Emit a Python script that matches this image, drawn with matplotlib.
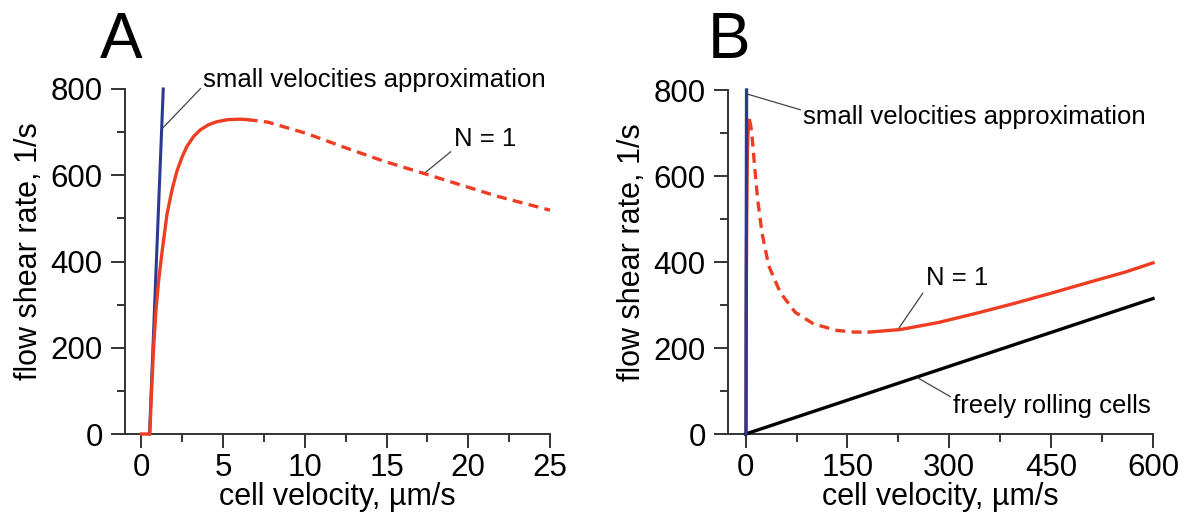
import matplotlib.pyplot as plt
from matplotlib.ticker import MultipleLocator

plt.rcParams['font.family'] = ['Liberation Sans', 'DejaVu Sans']

# panel A: N = 1 curve (solid rising part, dashed falling part)
a_solid_v = [0, 0.52, 0.62, 0.75, 0.9, 1.07, 1.26, 1.57, 1.9, 2.18, 2.5, 2.79, 3.2,
             3.6, 4.1, 4.6, 5.3, 6.04, 6.5]
a_solid_g = [0, 0, 95, 200, 290, 360, 420, 510, 570, 610, 643, 667, 690,
             705, 717, 724, 729, 730, 729]
a_dash_v = [6.5, 7.75, 10.1, 12.4, 14.8, 17.3, 19.5, 21.8, 24.5, 25.0]
a_dash_g = [729, 723, 697, 665, 633, 604, 578, 551, 524, 519]

# small velocities approximation (same in both panels)
approx_v = [0.5, 1.34]
approx_g = [0, 800]

# panel B: N = 1 curve
b_rise_v = [0, 0.52, 0.62, 0.75, 0.9, 1.07, 1.26, 1.57, 2.18, 2.79, 3.6, 4.6, 5.5]
b_rise_g = [0, 0, 95, 200, 290, 360, 420, 510, 610, 667, 705, 724, 729]
b_dash_v = [5.5, 7, 9, 11, 13, 17.7, 24, 34, 51, 73, 100, 134, 160, 182]
b_dash_g = [729, 722, 700, 665, 625, 545, 468, 391, 329, 283, 256, 241, 237, 237]
b_solid_v = [182, 228, 283, 338, 394, 449, 504, 560, 600]
b_solid_g = [237, 243, 259, 280, 303, 327, 352, 377, 398]

# freely rolling cells
free_v = [0, 600]
free_g = [0, 315]

RED = '#EE3D22'
BLUE = '#2A3A92'
AX = '#333333'
DASH = (3.0, 1.9)

fig = plt.figure(figsize=(11.89, 5.15), dpi=100)
ax_a = fig.add_axes([125 / 1189, 81 / 515, 425 / 1189, 345 / 515])
ax_b = fig.add_axes([728 / 1189, 81 / 515, 425 / 1189, 344 / 515])


def style_axis(ax, xlim, xmaj, xmin):
    ax.set_xlim(*xlim)
    ax.set_ylim(0, 800)
    for s in ('top', 'right'):
        ax.spines[s].set_visible(False)
    for s in ('left', 'bottom'):
        ax.spines[s].set_color(AX)
        ax.spines[s].set_linewidth(1.4)
    ax.xaxis.set_major_locator(MultipleLocator(xmaj))
    ax.xaxis.set_minor_locator(MultipleLocator(xmin))
    ax.yaxis.set_major_locator(MultipleLocator(200))
    ax.yaxis.set_minor_locator(MultipleLocator(100))
    ax.tick_params(which='major', direction='out', length=10, width=1.4,
                   color=AX, labelsize=22.5, pad=4)
    ax.tick_params(axis='y', which='major', pad=6)
    ax.tick_params(which='minor', direction='out', length=6, width=1.4, color=AX)
    ax.set_xlabel('cell velocity, µm/s', fontsize=22, labelpad=-1)
    ax.set_ylabel('flow shear rate, 1/s', fontsize=22)
    ax.yaxis.set_label_coords(-0.19, 0.53)


# ---- panel A
style_axis(ax_a, (-1, 25), 5, 2.5)
ax_a.plot(approx_v, approx_g, color=BLUE, lw=2.2, clip_on=False, zorder=3)
ax_a.plot(a_solid_v, a_solid_g, color=RED, lw=2.4, zorder=4, clip_on=False)
ax_a.plot(a_dash_v, a_dash_g, color=RED, lw=2.4, ls=(0, DASH), zorder=4, clip_on=False)

lead = dict(arrowstyle='-', color='#444444', lw=0.9, shrinkA=0, shrinkB=0)
ax_a.annotate('small velocities approximation', xy=(1.32, 710), xytext=(3.8, 822),
              fontsize=18.5, ha='left', va='center', annotation_clip=False,
              arrowprops=dict(lead, relpos=(0, 0.25)))
ax_a.annotate('N = 1', xy=(17.3, 604), xytext=(19.1, 685),
              fontsize=18.5, ha='left', va='center', annotation_clip=False,
              arrowprops=dict(lead, relpos=(0, 0.05)))
fig.text(100 / 1189, 1 - 58 / 515, 'A', fontsize=46, ha='left', va='baseline')

# ---- panel B
style_axis(ax_b, (-26, 600), 150, 75)
ax_b.plot(b_rise_v, b_rise_g, color=RED, lw=2.4, zorder=3, clip_on=False)
ax_b.plot(approx_v, approx_g, color=BLUE, lw=2.4, zorder=4, clip_on=False)
ax_b.plot(b_dash_v, b_dash_g, color=RED, lw=2.4, ls=(0, DASH), zorder=3, clip_on=False)
ax_b.plot(b_solid_v, b_solid_g, color=RED, lw=2.4, zorder=3, clip_on=False)
ax_b.plot(free_v, free_g, color='black', lw=2.4, zorder=3, clip_on=False)

ax_b.annotate('small velocities approximation', xy=(1.5, 791), xytext=(85, 738),
              fontsize=18.5, ha='left', va='center', annotation_clip=False,
              arrowprops=dict(lead, relpos=(0, 0.75)))
ax_b.annotate('N = 1', xy=(226, 247), xytext=(265, 362),
              fontsize=18.5, ha='left', va='center', annotation_clip=False,
              arrowprops=dict(lead, relpos=(0, 0.05)))
ax_b.annotate('freely rolling cells', xy=(253, 131), xytext=(306, 66),
              fontsize=18.5, ha='left', va='center', annotation_clip=False,
              arrowprops=dict(lead, relpos=(0, 0.8)))
fig.text(708 / 1189, 1 - 58 / 515, 'B', fontsize=46, ha='left', va='baseline')

fig.savefig('out.png', dpi=100, facecolor='white')
